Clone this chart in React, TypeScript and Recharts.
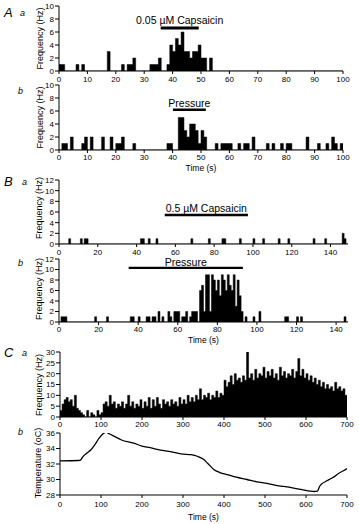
import React from 'react';
import { ComposedChart, Area, Line, XAxis, YAxis, ReferenceArea } from 'recharts';

const FONT = "'Liberation Sans', Arial, Helvetica, sans-serif";

// ---------- A a : 0.05 µM capsaicin, 1-s bins (start s -> rate Hz) ----------
const aaBinStarts = [0, 1, 6, 8, 17, 22, 24, 25, 26, 32, 33, 34, 35, 38, 39, 40, 41, 42, 43, 44, 45, 46, 47, 48, 49, 50, 51, 53];
const aaRates = [1, 1, 1, 1, 3, 1, 1, 1, 2, 1, 1, 1, 2, 1, 4, 3, 5, 4, 6, 3, 3, 2, 3, 3, 4, 2, 2, 2];

// ---------- A b : pressure ----------
const abBinStarts = [1, 2, 4, 8, 9, 11, 15, 18, 20, 21, 22, 26, 38, 39, 42, 43, 44, 45, 46, 47, 48, 49, 50, 51, 55, 57, 58, 59, 60, 63, 65, 66, 68, 73, 75, 78, 80, 81, 87, 91, 94, 96, 97, 99];
const abRates = [1, 1, 2, 1, 2, 2, 2, 2, 1, 1, 2, 1, 1, 1, 5, 5, 3, 2, 4, 4, 3, 1, 3, 2, 1, 1, 1, 1, 1, 1, 1, 1, 2, 1, 1, 1, 1, 1, 2, 1, 1, 2, 1, 1];

// ---------- B a : 0.5 µM capsaicin ----------
const baBinStarts = [5, 11, 13, 14, 42, 43, 46, 50, 68, 77, 84, 85, 93, 100, 105, 113, 118, 131, 137, 146, 147];
const baRates = [1, 1, 1, 1, 1, 1, 1, 1, 1, 1, 1, 1, 1, 1, 1, 1, 1, 1, 1, 2, 1];

// ---------- B b : pressure ----------
const bbBinStarts = [1, 2, 3, 18, 24, 36, 37, 40, 44, 45, 47, 48, 50, 52, 55, 56, 58, 59, 60, 62, 63, 64, 66, 67, 68, 69, 71, 72, 73, 74, 75, 76, 77, 78, 79, 80, 81, 82, 83, 84, 85, 86, 87, 88, 89, 90, 91, 92, 94, 98, 101, 114, 115, 120, 122, 144];
const bbRates = [1, 1, 1, 1, 1, 1, 1, 1, 1, 1, 1, 1, 2, 1, 2, 1, 2, 2, 2, 1, 1, 2, 1, 2, 2, 2, 6, 7, 2, 9, 9, 2, 9, 8, 6, 8, 5, 9, 8, 6, 9, 7, 6, 9, 3, 8, 5, 2, 1, 1, 2, 1, 1, 1, 1, 1];

// ---------- C a : 5-s bins, 0-700 s ----------
const caRates = [
  3, 6, 8, 9, 7, 8, 5, 10, 4, 3, 2, 1, 0, 3, 0, 2, 1, 0, 3, 1,
  2, 6, 7, 5, 10, 6, 7, 4, 6, 5, 7, 4, 6, 10, 5, 7, 4, 6, 5, 8,
  4, 7, 5, 9, 4, 8, 5, 9, 6, 4, 8, 6, 7, 5, 8, 6, 7, 5, 9, 6,
  8, 6, 10, 7, 9, 7, 10, 8, 13, 8, 10, 9, 11, 8, 10, 9, 12, 9, 11, 10,
  17, 14, 16, 19, 15, 20, 17, 18, 16, 19, 17, 30, 18, 20, 17, 22, 18, 20, 19, 23,
  18, 21, 19, 22, 18, 20, 17, 23, 19, 21, 18, 20, 19, 22, 18, 21, 27, 19, 22, 18,
  20, 17, 19, 16, 18, 15, 17, 14, 16, 13, 15, 13, 14, 12, 16, 13, 14, 12, 13, 10,
];

// ---------- C b : temperature ----------
const cbTimes = [0, 45, 50, 55, 65, 75, 85, 95, 105, 112, 120, 135, 150, 180, 200, 220, 245, 270, 295, 320, 335, 350, 360, 375, 390, 410, 430, 456, 480, 505, 530, 545, 570, 590, 610, 620, 628, 633, 640, 650, 660, 670, 680, 690, 700];
const cbTemps = [32.4, 32.45, 32.5, 32.9, 33.4, 33.8, 34.5, 35.3, 35.9, 36.1, 35.9, 35.5, 35.1, 34.7, 34.3, 34.1, 33.8, 33.6, 33.3, 33.2, 33.0, 32.6, 32.1, 31.3, 30.9, 30.6, 30.3, 30.0, 29.7, 29.5, 29.2, 29.1, 28.9, 28.7, 28.5, 28.45, 28.5, 29.1, 29.5, 29.8, 30.1, 30.4, 30.8, 31.1, 31.4];

// Tick labels
const xTicksA = [0, 10, 20, 30, 40, 50, 60, 70, 80, 90, 100];
const xTicksB = [0, 20, 40, 60, 80, 100, 120, 140];
const xTicksC = [0, 100, 200, 300, 400, 500, 600, 700];
const yTicksA = [0, 2, 4, 6, 8, 10];
const yTicksB = [0, 2, 4, 6, 8, 10, 12];
const yTicksCa = [0, 5, 10, 15, 20, 25, 30];
const yTicksCb = [28, 30, 32, 34, 36];

// Stimulus periods (s)
const aaStim = { start: 35.8, end: 49.2, label: '0.05 µM Capsaicin' };
const abStim = { start: 40.1, end: 51.7, label: 'Pressure' };
const baStim = { start: 54.5, end: 97.4, label: '0.5 µM Capsaicin' };
const bbStim = { start: 35.2, end: 92.9, label: 'Pressure' };

function steps(starts: number[], rates: number[], binW: number, end: number) {
  const n = Math.round(end / binW);
  const vals = new Array(n).fill(0);
  starts.forEach((s, i) => {
    vals[Math.round(s / binW)] = rates[i];
  });
  const rows = vals.map((v, i) => ({ t: i * binW, v }));
  rows.push({ t: n * binW, v: 0 });
  return rows;
}

function dense(rates: number[], binW: number) {
  const rows = rates.map((v, i) => ({ t: i * binW, v }));
  rows.push({ t: rates.length * binW, v: 0 });
  return rows;
}

const MT = 6;
const MB = 4;
const tickStyle = { fontSize: 8, fill: '#000', fontFamily: FONT };

type PanelProps = {
  plotTop: number;
  plotH: number;
  right: number;
  yAxisW: number;
  xAxisH: number;
  xTickMargin: number;
  data: any[];
  xDomain: [number, number];
  xTicks: number[];
  yDomain: [number, number];
  yTicks: number[];
  timeLabel?: boolean;
  stim?: { start: number; end: number; label: string };
  stimY?: [number, number];
  stimOffset?: number;
  line?: boolean;
};

function Panel(p: PanelProps) {
  return (
    <div style={{ position: 'absolute', left: 0, top: p.plotTop - MT }}>
      <ComposedChart
        width={359}
        height={MT + p.plotH + p.xAxisH + MB}
        data={p.data}
        margin={{ top: MT, right: p.right, bottom: MB, left: 0 }}
      >
        <XAxis
          type="number"
          dataKey="t"
          domain={p.xDomain}
          ticks={p.xTicks}
          interval={0}
          allowDataOverflow
          tickSize={3}
          tickMargin={p.xTickMargin}
          height={p.xAxisH}
          stroke="#000"
          tick={tickStyle}
          label={
            p.timeLabel
              ? { value: 'Time (s)', position: 'insideBottom', offset: 0, fontSize: 8.5, fill: '#000', fontFamily: FONT }
              : undefined
          }
        />
        <YAxis
          type="number"
          domain={p.yDomain}
          ticks={p.yTicks}
          interval={0}
          allowDataOverflow
          width={p.yAxisW}
          tickSize={4}
          tickMargin={1}
          stroke="#000"
          tick={tickStyle}
        />
        {p.line ? (
          <Line type="monotone" dataKey="v" stroke="#000" strokeWidth={1.3} dot={false} activeDot={false} isAnimationActive={false} />
        ) : (
          <Area
            type="stepAfter"
            dataKey="v"
            stroke="#000"
            strokeWidth={0.5}
            fill="#000"
            fillOpacity={1}
            dot={false}
            activeDot={false}
            isAnimationActive={false}
          />
        )}
        {p.stim && p.stimY && (
          <ReferenceArea
            x1={p.stim.start}
            x2={p.stim.end}
            y1={p.stimY[0]}
            y2={p.stimY[1]}
            fill="#000"
            fillOpacity={1}
            stroke="none"
            ifOverflow="visible"
            label={{ value: p.stim.label, position: 'top', offset: p.stimOffset ?? 2, fontSize: 10.5, fill: '#000', fontFamily: FONT }}
          />
        )}
      </ComposedChart>
    </div>
  );
}

function YTitle({ x, y, text }: { x: number; y: number; text: string }) {
  return (
    <text
      transform={`translate(${x},${y}) rotate(-90)`}
      textAnchor="middle"
      dominantBaseline="central"
      fontSize={9}
      fontFamily={FONT}
      fill="#000"
    >
      {text}
    </text>
  );
}

export default function App() {
  const aaData = steps(aaBinStarts, aaRates, 1, 100);
  const abData = steps(abBinStarts, abRates, 1, 100);
  const baData = steps(baBinStarts, baRates, 1, 149);
  const bbData = steps(bbBinStarts, bbRates, 1, 146);
  const caData = dense(caRates, 5);
  const cbData = cbTimes.map((t, i) => ({ t, v: cbTemps[i] }));

  return (
    <div style={{ position: 'absolute', left: 0, top: 0, width: 359, height: 524, background: '#fff', overflow: 'hidden' }}>
      <Panel plotTop={6} plotH={65} right={16} yAxisW={59} xAxisH={14} xTickMargin={2}
        data={aaData} xDomain={[0, 100]} xTicks={xTicksA} yDomain={[0, 10]} yTicks={yTicksA}
        stim={aaStim} stimY={[6.4, 6.85]} />
      <Panel plotTop={85} plotH={65} right={16} yAxisW={59} xAxisH={21} xTickMargin={1} timeLabel
        data={abData} xDomain={[0, 100]} xTicks={xTicksA} yDomain={[0, 10]} yTicks={yTicksA}
        stim={abStim} stimY={[6.0, 6.38]} />
      <Panel plotTop={180} plotH={64} right={11} yAxisW={59} xAxisH={14} xTickMargin={2}
        data={baData} xDomain={[0, 149]} xTicks={xTicksB} yDomain={[0, 12]} yTicks={yTicksB}
        stim={baStim} stimY={[5.2, 5.67]} />
      <Panel plotTop={259} plotH={63} right={11} yAxisW={59} xAxisH={21} xTickMargin={1} timeLabel
        data={bbData} xDomain={[0, 146]} xTicks={xTicksB} yDomain={[0, 12]} yTicks={yTicksB}
        stim={bbStim} stimY={[10.1, 10.53]} stimOffset={1} />
      <Panel plotTop={352} plotH={65} right={12} yAxisW={60} xAxisH={14} xTickMargin={1}
        data={caData} xDomain={[0, 700]} xTicks={xTicksC} yDomain={[0, 30]} yTicks={yTicksCa} />
      <Panel plotTop={433} plotH={62} right={12} yAxisW={60} xAxisH={25} xTickMargin={3} timeLabel line
        data={cbData} xDomain={[0, 700]} xTicks={xTicksC} yDomain={[28, 36]} yTicks={yTicksCb} />

      <svg width={359} height={524} style={{ position: 'absolute', left: 0, top: 0, pointerEvents: 'none' }}>
        <g fontFamily={FONT} fill="#000" fontStyle="italic">
          <text x={4} y={17} fontSize={13}>A</text>
          <text x={20} y={16} fontSize={9}>a</text>
          <text x={18} y={94} fontSize={9}>b</text>
          <text x={4} y={186} fontSize={13}>B</text>
          <text x={22} y={185} fontSize={9}>a</text>
          <text x={18} y={266} fontSize={9}>b</text>
          <text x={4} y={357} fontSize={13}>C</text>
          <text x={22} y={356} fontSize={9}>a</text>
          <text x={18} y={435} fontSize={9}>b</text>
        </g>
        <YTitle x={40} y={38.5} text="Frequency (Hz)" />
        <YTitle x={40} y={117.5} text="Frequency (Hz)" />
        <YTitle x={39} y={208} text="Frequency (Hz)" />
        <YTitle x={39} y={289} text="Frequency (Hz)" />
        <YTitle x={39} y={385} text="Frequency (Hz)" />
        <YTitle x={38} y={463} text="Temperature (oC)" />
      </svg>
    </div>
  );
}
